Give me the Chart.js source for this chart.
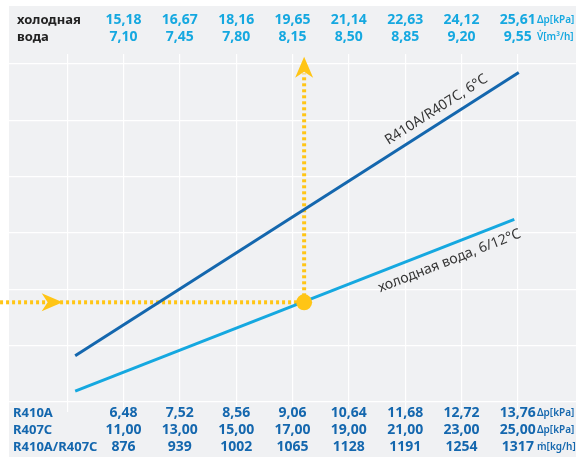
<!DOCTYPE html>
<html>
<head>
<meta charset="utf-8">
<script src="https://cdn.jsdelivr.net/npm/chart.js@4/dist/chart.umd.min.js"></script>
<style>
  html, body { margin: 0; padding: 0; background: #fff; }
  #wrap { width: 576px; height: 457px; position: relative; }
</style>
</head>
<body>
<div id="wrap"><canvas id="chart"></canvas></div>
<script>
// ================= DATA =================
// x axis = mass flow R410A/R407C [kg/h], one grid column per table value
const massFlow   = [876, 939, 1002, 1065, 1128, 1191, 1254, 1317];
const waterDp    = ['15,18', '16,67', '18,16', '19,65', '21,14', '22,63', '24,12', '25,61'];
const waterFlow  = ['7,10', '7,45', '7,80', '8,15', '8,50', '8,85', '9,20', '9,55'];
const r410aDp    = ['6,48', '7,52', '8,56', '9,06', '10,64', '11,68', '12,72', '13,76'];
const r407cDp    = ['11,00', '13,00', '15,00', '17,00', '19,00', '21,00', '23,00', '25,00'];
const massLabels = ['876', '939', '1002', '1065', '1128', '1191', '1254', '1317'];

const xGrid = [813, 876, 939, 1002, 1065, 1128, 1191, 1254, 1317];
const yGrid = [0, 1, 2, 3, 4, 5, 6];

// curves (x in kg/h, y in grid units)
const refrigLine = [{ x: 822, y: 0.82 }, { x: 1318, y: 5.85 }];
const waterLine  = [{ x: 822, y: 0.195 }, { x: 1313, y: 3.24 }];

// example reading
const pointX = 1078;
const pointY = 1.77;
const hLineStartX = 738;
const arrowHTipX = 808;
const arrowVTipY = 6.13;

const DARK = '#1467ae';
const LIGHT = '#15a8e0';
const YELLOW = '#ffc516';
const FONT = "'Noto Sans', sans-serif";

// ================= BACKGROUND =================
const panelBg = {
    id: 'panelBg',
    beforeDraw(chart) {
        const ctx = chart.ctx;
        ctx.save();
        ctx.fillStyle = '#f0f1f3';
        ctx.fillRect(9, 6, chart.width - 9, chart.height - 6);
        ctx.restore();
    }
};

// ================= ARROWS, TABLES, LABELS =================
const overlay = {
    id: 'overlay',
    afterDatasetsDraw(chart) {
        const ctx = chart.ctx;
        const xs = chart.scales.x, ys = chart.scales.y;

        // arrow heads
        ctx.save();
        ctx.fillStyle = YELLOW;
        const hx = xs.getPixelForValue(arrowHTipX), hy = ys.getPixelForValue(pointY);
        ctx.beginPath();
        ctx.moveTo(hx, hy);
        ctx.lineTo(hx - 21, hy - 9);
        ctx.lineTo(hx - 15, hy);
        ctx.lineTo(hx - 21, hy + 9);
        ctx.closePath();
        ctx.fill();
        const vx = xs.getPixelForValue(pointX), vy = ys.getPixelForValue(arrowVTipY);
        ctx.beginPath();
        ctx.moveTo(vx, vy);
        ctx.lineTo(vx - 9, vy + 21);
        ctx.lineTo(vx, vy + 15);
        ctx.lineTo(vx + 9, vy + 21);
        ctx.closePath();
        ctx.fill();
        ctx.restore();

        // line labels along the curves
        const lineLabel = (pts, text, at, off) => {
            const x0 = xs.getPixelForValue(pts[0].x), y0 = ys.getPixelForValue(pts[0].y);
            const x1 = xs.getPixelForValue(pts[1].x), y1 = ys.getPixelForValue(pts[1].y);
            const ang = Math.atan2(y1 - y0, x1 - x0);
            const px = x0 + (x1 - x0) * at, py = y0 + (y1 - y0) * at;
            ctx.save();
            ctx.translate(px, py);
            ctx.rotate(ang);
            ctx.font = '14px ' + FONT;
            ctx.fillStyle = '#333';
            ctx.textAlign = 'center';
            ctx.textBaseline = 'middle';
            ctx.fillText(text, 0, off);
            ctx.restore();
        };
        lineLabel(refrigLine, 'R410A/R407C, 6°C', 0.83, -13);
        lineLabel(waterLine, 'холодная вода, 6/12°C', 0.84, 15);

        // tables
        ctx.save();
        ctx.textBaseline = 'middle';
        ctx.font = 'bold 13px ' + FONT;
        ctx.fillStyle = '#222';
        ctx.textAlign = 'left';
        ctx.fillText('холодная', 17, 20);
        ctx.fillText('вода', 17, 37);

        const row = (vals, y, color) => {
            ctx.fillStyle = color;
            ctx.textAlign = 'center';
            ctx.font = 'bold 14px ' + FONT;
            vals.forEach((v, i) => ctx.fillText(v, xs.getPixelForValue(massFlow[i]), y));
        };
        row(waterDp, 20, LIGHT);
        row(waterFlow, 37, LIGHT);
        row(r410aDp, 413, DARK);
        row(r407cDp, 430, DARK);
        row(massLabels, 447, DARK);

        ctx.textAlign = 'left';
        ctx.font = 'bold 13px ' + FONT;
        ctx.fillStyle = DARK;
        ctx.fillText('R410A', 13, 413);
        ctx.fillText('R407C', 13, 430);
        ctx.fillText('R410A/R407C', 13, 447);

        ctx.font = '600 10px ' + FONT;
        ctx.fillStyle = LIGHT;
        ctx.fillText('Δp[kPa]', 537, 20);
        ctx.fillText('V̇[m³/h]', 537, 37);
        ctx.fillStyle = DARK;
        ctx.fillText('Δp[kPa]', 537, 413);
        ctx.fillText('Δp[kPa]', 537, 430);
        ctx.fillText('ṁ[kg/h]', 537, 447);
        ctx.restore();
    }
};

// ================= CHART =================
new Chart(document.getElementById('chart'), {
    type: 'scatter',
    data: {
        datasets: [
            {
                data: [{ x: pointX, y: pointY }],
                pointRadius: 8,
                pointBackgroundColor: YELLOW,
                pointBorderWidth: 0,
                order: 0
            },
            {
                data: refrigLine,
                showLine: true,
                borderColor: DARK,
                borderWidth: 3,
                pointRadius: 0,
                order: 1
            },
            {
                data: waterLine,
                showLine: true,
                borderColor: LIGHT,
                borderWidth: 3,
                pointRadius: 0,
                order: 2
            },
            {
                data: [{ x: hLineStartX, y: pointY }, { x: pointX, y: pointY }],
                showLine: true,
                borderColor: YELLOW,
                borderWidth: 4,
                borderDash: [3, 3],
                pointRadius: 0,
                clip: false,
                order: 3
            },
            {
                data: [{ x: pointX, y: pointY }, { x: pointX, y: arrowVTipY - 0.3 }],
                showLine: true,
                borderColor: YELLOW,
                borderWidth: 4,
                borderDash: [3, 3],
                pointRadius: 0,
                clip: false,
                order: 4
            }
        ]
    },
    options: {
        responsive: true,
        maintainAspectRatio: false,
        animation: false,
        layout: { autoPadding: false, padding: { left: 9, right: 0, top: 54, bottom: 45 } },
        plugins: {
            legend: { display: false },
            tooltip: { enabled: false }
        },
        scales: {
            x: {
                type: 'linear',
                min: 748,
                max: 1382,
                afterBuildTicks: s => { s.ticks = xGrid.map(v => ({ value: v })); },
                grid: { color: '#ffffff', lineWidth: 1.2, drawTicks: false },
                border: { display: false },
                ticks: { display: false }
            },
            y: {
                type: 'linear',
                min: -0.177,
                max: 6.177,
                afterBuildTicks: s => { s.ticks = yGrid.map(v => ({ value: v })); },
                grid: { color: '#ffffff', lineWidth: 1.2, drawTicks: false },
                border: { display: false },
                ticks: { display: false }
            }
        }
    },
    plugins: [panelBg, overlay]
});
</script>
</body>
</html>
